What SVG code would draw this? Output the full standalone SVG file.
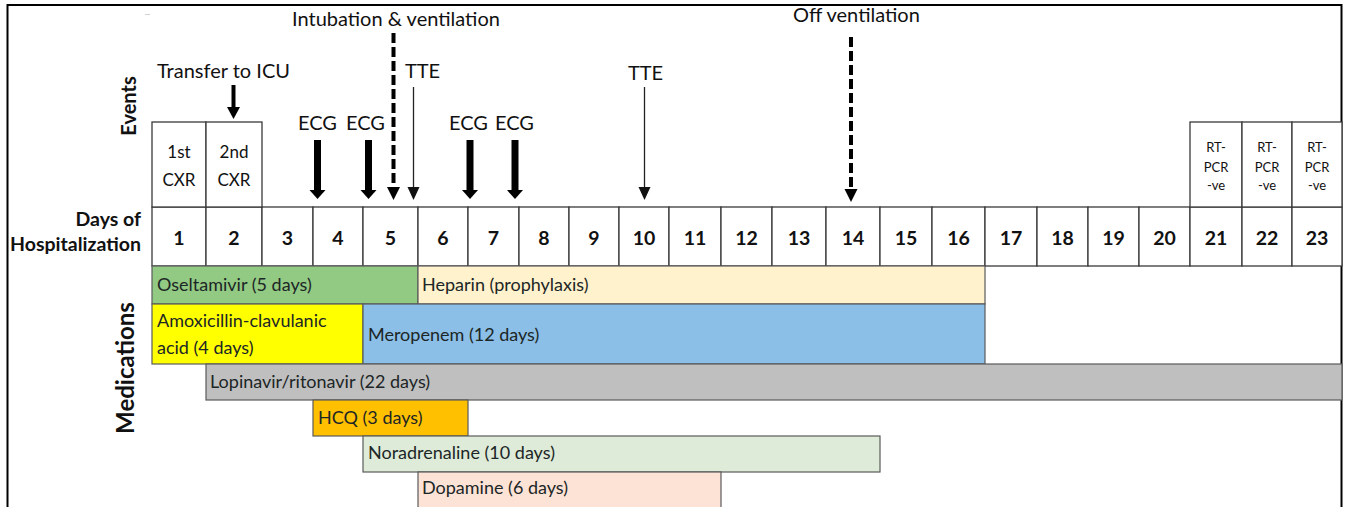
<svg xmlns="http://www.w3.org/2000/svg" width="1345" height="507" viewBox="0 0 1345 507">
<style>
text{font-family:Lato,"Liberation Sans",sans-serif;fill:#111}
.ev{font-size:20px}
.cx{font-size:17px}
.rt{font-size:13px}
.day{font-size:19.5px;font-weight:bold;text-anchor:middle}
.hd{font-size:19.5px;font-weight:bold;text-anchor:end}
.big{font-weight:bold;text-anchor:middle}
.md{font-size:18px;fill:#1c2626}
.cell{fill:#fff;stroke:#3a3a3a;stroke-width:1.3}
.bar{stroke:#5a5a5a;stroke-width:1.2}
.mid{text-anchor:middle}
.thick{stroke:#000;stroke-width:7;fill:none}
.med{stroke:#000;stroke-width:4;fill:none}
.dash{stroke:#000;stroke-width:4;stroke-dasharray:10 4;fill:none}
.thin{stroke:#222;stroke-width:1.3;fill:none}
</style>
<defs>
<marker id="hThick" markerUnits="userSpaceOnUse" markerWidth="10" markerHeight="18" refX="0" refY="8" orient="auto" overflow="visible"><path d="M0,0 L9,8 L0,16 z" fill="#000"/></marker>
<marker id="hMed" markerUnits="userSpaceOnUse" markerWidth="14" markerHeight="14" refX="0" refY="6.5" orient="auto" overflow="visible"><path d="M0,0 L12,6.5 L0,13 z" fill="#000"/></marker>
<marker id="hDash" markerUnits="userSpaceOnUse" markerWidth="14" markerHeight="14" refX="0" refY="6.5" orient="auto" overflow="visible"><path d="M0,0 L13,6.5 L0,13 z" fill="#000"/></marker>
<marker id="hThin" markerUnits="userSpaceOnUse" markerWidth="14" markerHeight="14" refX="0" refY="6" orient="auto" overflow="visible"><path d="M0,0 L13,6 L0,12 z" fill="#111"/></marker>
</defs>

<g id="frame">
<path d="M7.5,507 V5 H1341.5 V507" fill="none" stroke="#000" stroke-width="2"/>
<line x1="145" y1="14.5" x2="150" y2="14.5" stroke="#d0d0d0" stroke-width="1"/>
</g>

<g id="axis-labels">
<text class="big" font-size="20" transform="translate(136,106) rotate(-90)">Events</text>
<text class="big" font-size="24" transform="translate(134,368) rotate(-90)">Medications</text>
<text class="hd" x="141" y="226">Days of</text>
<text class="hd" x="141" y="251">Hospitalization</text>
</g>

<g id="days">
<rect class="cell" x="152" y="207" width="54" height="59"/>
<rect class="cell" x="206" y="207" width="56" height="59"/>
<rect class="cell" x="262" y="207" width="51" height="59"/>
<rect class="cell" x="313" y="207" width="50" height="59"/>
<rect class="cell" x="363" y="207" width="55" height="59"/>
<rect class="cell" x="418" y="207" width="50" height="59"/>
<rect class="cell" x="468" y="207" width="51" height="59"/>
<rect class="cell" x="519" y="207" width="50" height="59"/>
<rect class="cell" x="569" y="207" width="50" height="59"/>
<rect class="cell" x="619" y="207" width="50" height="59"/>
<rect class="cell" x="669" y="207" width="52" height="59"/>
<rect class="cell" x="721" y="207" width="51" height="59"/>
<rect class="cell" x="772" y="207" width="54" height="59"/>
<rect class="cell" x="826" y="207" width="54" height="59"/>
<rect class="cell" x="880" y="207" width="52" height="59"/>
<rect class="cell" x="932" y="207" width="53" height="59"/>
<rect class="cell" x="985" y="207" width="52" height="59"/>
<rect class="cell" x="1037" y="207" width="51" height="59"/>
<rect class="cell" x="1088" y="207" width="51" height="59"/>
<rect class="cell" x="1139" y="207" width="51" height="59"/>
<rect class="cell" x="1190" y="207" width="52" height="59"/>
<rect class="cell" x="1242" y="207" width="50" height="59"/>
<rect class="cell" x="1292" y="207" width="50" height="59"/>
<text class="day" x="179" y="245">1</text>
<text class="day" x="234" y="245">2</text>
<text class="day" x="287.5" y="245">3</text>
<text class="day" x="338" y="245">4</text>
<text class="day" x="390.5" y="245">5</text>
<text class="day" x="443" y="245">6</text>
<text class="day" x="493.5" y="245">7</text>
<text class="day" x="544" y="245">8</text>
<text class="day" x="594" y="245">9</text>
<text class="day" x="644" y="245">10</text>
<text class="day" x="695" y="245">11</text>
<text class="day" x="746.5" y="245">12</text>
<text class="day" x="799" y="245">13</text>
<text class="day" x="853" y="245">14</text>
<text class="day" x="906" y="245">15</text>
<text class="day" x="958.5" y="245">16</text>
<text class="day" x="1011" y="245">17</text>
<text class="day" x="1062.5" y="245">18</text>
<text class="day" x="1113.5" y="245">19</text>
<text class="day" x="1164.5" y="245">20</text>
<text class="day" x="1216" y="245">21</text>
<text class="day" x="1267" y="245">22</text>
<text class="day" x="1317" y="245">23</text>
</g>

<g id="event-cxr1">
<rect class="cell" x="152" y="122" width="54" height="85"/>
<text class="cx mid" x="179" y="158">1st</text>
<text class="cx mid" x="179" y="186">CXR</text>
</g>
<g id="event-cxr2">
<rect class="cell" x="206" y="122" width="56" height="85"/>
<text class="cx mid" x="234" y="158">2nd</text>
<text class="cx mid" x="234" y="186">CXR</text>
</g>
<g id="event-pcr21">
<rect class="cell" x="1190" y="122" width="52" height="85"/>
<text class="rt mid" x="1216" y="152">RT-</text>
<text class="rt mid" x="1216" y="172">PCR</text>
<text class="rt mid" x="1216" y="190">-ve</text>
</g>
<g id="event-pcr22">
<rect class="cell" x="1242" y="122" width="50" height="85"/>
<text class="rt mid" x="1267" y="152">RT-</text>
<text class="rt mid" x="1267" y="172">PCR</text>
<text class="rt mid" x="1267" y="190">-ve</text>
</g>
<g id="event-pcr23">
<rect class="cell" x="1292" y="122" width="50" height="85"/>
<text class="rt mid" x="1317" y="152">RT-</text>
<text class="rt mid" x="1317" y="172">PCR</text>
<text class="rt mid" x="1317" y="190">-ve</text>
</g>

<g id="event-labels">
<text class="ev" x="157" y="78">Transfer to ICU</text>
<text class="ev" x="292" y="26">Intubation &amp; ventilation</text>
<text class="ev" x="405" y="78">TTE</text>
<text class="ev" x="628" y="80">TTE</text>
<text class="ev" x="793" y="22">Off ventilation</text>
<text class="ev mid" x="317.5" y="130">ECG</text>
<text class="ev mid" x="365.5" y="130">ECG</text>
<text class="ev mid" x="468.5" y="130">ECG</text>
<text class="ev mid" x="514.5" y="130">ECG</text>
</g>

<g id="connectors">
<line class="med" x1="233.5" y1="85" x2="233.5" y2="107" marker-end="url(#hMed)"/>
<line class="thick" x1="317.5" y1="140" x2="317.5" y2="190" marker-end="url(#hThick)"/>
<line class="thick" x1="368.5" y1="140" x2="368.5" y2="190" marker-end="url(#hThick)"/>
<line class="thick" x1="470" y1="140" x2="470" y2="190" marker-end="url(#hThick)"/>
<line class="thick" x1="515" y1="140" x2="515" y2="190" marker-end="url(#hThick)"/>
<line class="dash" x1="393.5" y1="33" x2="393.5" y2="187" marker-end="url(#hDash)"/>
<line class="dash" x1="851" y1="37" x2="851" y2="189" marker-end="url(#hDash)"/>
<line class="thin" x1="413.5" y1="87" x2="413.5" y2="187" marker-end="url(#hThin)"/>
<line class="thin" x1="644.5" y1="87" x2="644.5" y2="187" marker-end="url(#hThin)"/>
</g>

<g id="med-oseltamivir">
<rect class="bar" x="152" y="266" width="266" height="38" fill="#92C983"/>
<text class="md" x="157" y="291">Oseltamivir (5 days)</text>
</g>
<g id="med-heparin">
<rect class="bar" x="418" y="266" width="567" height="38" fill="#FFF2CC"/>
<text class="md" x="422" y="291">Heparin (prophylaxis)</text>
</g>
<g id="med-amoxicillin">
<rect class="bar" x="152" y="304" width="211" height="60" fill="#FFFF00"/>
<text class="md" x="157" y="327">Amoxicillin-clavulanic</text>
<text class="md" x="157" y="354">acid (4 days)</text>
</g>
<g id="med-meropenem">
<rect class="bar" x="363" y="304" width="622" height="60" fill="#8BBFE7"/>
<text class="md" x="368" y="341">Meropenem (12 days)</text>
</g>
<g id="med-lopinavir">
<rect class="bar" x="206" y="364" width="1136" height="36" fill="#BFBFBF"/>
<text class="md" x="210" y="388">Lopinavir/ritonavir (22 days)</text>
</g>
<g id="med-hcq">
<rect class="bar" x="313" y="400" width="155" height="36" fill="#FFC000"/>
<text class="md" x="318" y="424">HCQ (3 days)</text>
</g>
<g id="med-noradrenaline">
<rect class="bar" x="363" y="436" width="517" height="36" fill="#DEEBD8"/>
<text class="md" x="368" y="459">Noradrenaline (10 days)</text>
</g>
<g id="med-dopamine">
<rect class="bar" x="418" y="472" width="303" height="40" fill="#FCE3D6"/>
<text class="md" x="422" y="494">Dopamine (6 days)</text>
</g>
</svg>
